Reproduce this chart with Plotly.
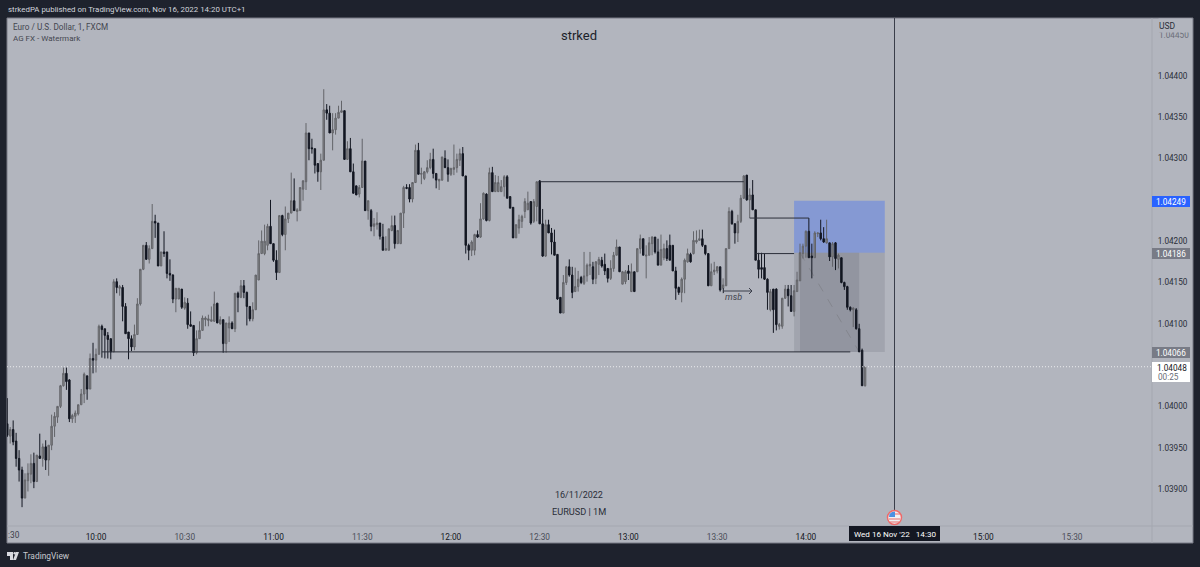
import pandas as pd
import plotly.graph_objects as go

FONT = "Roboto"
DARK = "#1e222d"
PANEL = "#b2b5be"
LINE = "#2a2e39"
NO_LINE = dict(width=0)

start_time = "2022-11-16 09:30"

# 1 minute candles
opens = [
    1.03979, 1.03964, 1.03972, 1.03958, 1.03937, 1.03923, 1.03889, 1.03910, 1.03918, 1.03931,
    1.03909, 1.03940, 1.03937, 1.03951, 1.03935, 1.03953, 1.03976, 1.03987, 1.04000, 1.04025,
    1.04040, 1.04032, 1.03985, 1.03988, 1.03991, 1.04002, 1.04015, 1.04037, 1.04021, 1.04058,
    1.04056, 1.04063, 1.04097, 1.04094, 1.04086, 1.04082, 1.04066, 1.04151, 1.04143, 1.04144,
    1.04121, 1.04090, 1.04082, 1.04072, 1.04087, 1.04124, 1.04166, 1.04195, 1.04178, 1.04191,
    1.04224, 1.04222, 1.04170, 1.04187, 1.04187, 1.04161, 1.04159, 1.04130, 1.04130, 1.04142,
    1.04119, 1.04125, 1.04099, 1.04098, 1.04065, 1.04082, 1.04092, 1.04105, 1.04104, 1.04103,
    1.04103, 1.04125, 1.04100, 1.04105, 1.04076, 1.04095, 1.04101, 1.04094, 1.04137, 1.04132,
    1.04146, 1.04138, 1.04121, 1.04106, 1.04117, 1.04153, 1.04185, 1.04185, 1.04195, 1.04218,
    1.04197, 1.04177, 1.04162, 1.04231, 1.04208, 1.04227, 1.04234, 1.04249, 1.04236, 1.04237,
    1.04263, 1.04272, 1.04331, 1.04313, 1.04312, 1.04294, 1.04284, 1.04298, 1.04359, 1.04355,
    1.04331, 1.04335, 1.04349, 1.04356, 1.04358, 1.04299, 1.04312, 1.04284, 1.04267, 1.04257,
    1.04265, 1.04297, 1.04237, 1.04237, 1.04218, 1.04220, 1.04222, 1.04205, 1.04189, 1.04189,
    1.04213, 1.04219, 1.04197, 1.04197, 1.04234, 1.04265, 1.04265, 1.04251, 1.04271, 1.04310,
    1.04281, 1.04276, 1.04284, 1.04289, 1.04299, 1.04282, 1.04273, 1.04274, 1.04300, 1.04289,
    1.04281, 1.04287, 1.04289, 1.04298, 1.04306, 1.04279, 1.04195, 1.04189, 1.04189, 1.04208,
    1.04205, 1.04227, 1.04257, 1.04225, 1.04283, 1.04260, 1.04260, 1.04260, 1.04266, 1.04278,
    1.04254, 1.04241, 1.04204, 1.04216, 1.04224, 1.04236, 1.04238, 1.04248, 1.04224, 1.04242,
    1.04273, 1.04221, 1.04182, 1.04220, 1.04210, 1.04199, 1.04184, 1.04132, 1.04113, 1.04150,
    1.04169, 1.04159, 1.04139, 1.04145, 1.04156, 1.04149, 1.04158, 1.04170, 1.04169, 1.04155,
    1.04172, 1.04177, 1.04172, 1.04167, 1.04155, 1.04167, 1.04183, 1.04193, 1.04148, 1.04151,
    1.04164, 1.04139, 1.04163, 1.04163, 1.04191, 1.04203, 1.04182, 1.04183, 1.04197, 1.04205,
    1.04187, 1.04171, 1.04180, 1.04191, 1.04195, 1.04195, 1.04164, 1.04144, 1.04138, 1.04154,
    1.04175, 1.04184, 1.04185, 1.04199, 1.04201, 1.04203, 1.04195, 1.04185, 1.04146, 1.04163,
    1.04164, 1.04169, 1.04143, 1.04146, 1.04191, 1.04236, 1.04221, 1.04210, 1.04224, 1.04252,
    1.04280, 1.04250, 1.04256, 1.04238, 1.04177, 1.04168, 1.04168, 1.04154, 1.04117, 1.04142,
    1.04142, 1.04097, 1.04097, 1.04131, 1.04142, 1.04134, 1.04115, 1.04139, 1.04152, 1.04185,
    1.04194, 1.04212, 1.04182, 1.04180, 1.04209, 1.04210, 1.04203, 1.04198, 1.04198, 1.04181,
    1.04198, 1.04178, 1.04180, 1.04150, 1.04145, 1.04120, 1.04117, 1.04117, 1.04094, 1.04068, 1.04025,
]
closes = [
    1.03965, 1.03972, 1.03957, 1.03937, 1.03923, 1.03889, 1.03911, 1.03919, 1.03931, 1.03909,
    1.03941, 1.03937, 1.03951, 1.03935, 1.03953, 1.03976, 1.03988, 1.04000, 1.04025, 1.04040,
    1.04030, 1.03985, 1.03989, 1.03992, 1.04002, 1.04015, 1.04039, 1.04021, 1.04058, 1.04056,
    1.04063, 1.04097, 1.04093, 1.04086, 1.04081, 1.04066, 1.04151, 1.04144, 1.04145, 1.04121,
    1.04088, 1.04082, 1.04072, 1.04087, 1.04124, 1.04166, 1.04195, 1.04178, 1.04191, 1.04224,
    1.04222, 1.04170, 1.04187, 1.04185, 1.04161, 1.04159, 1.04130, 1.04143, 1.04143, 1.04120,
    1.04126, 1.04099, 1.04097, 1.04065, 1.04082, 1.04092, 1.04107, 1.04107, 1.04106, 1.04105,
    1.04124, 1.04101, 1.04105, 1.04076, 1.04101, 1.04101, 1.04094, 1.04137, 1.04132, 1.04146,
    1.04138, 1.04121, 1.04106, 1.04117, 1.04159, 1.04185, 1.04200, 1.04200, 1.04218, 1.04197,
    1.04177, 1.04162, 1.04231, 1.04208, 1.04227, 1.04234, 1.04249, 1.04237, 1.04238, 1.04265,
    1.04273, 1.04331, 1.04312, 1.04312, 1.04292, 1.04284, 1.04298, 1.04359, 1.04355, 1.04331,
    1.04335, 1.04349, 1.04356, 1.04358, 1.04299, 1.04312, 1.04284, 1.04258, 1.04256, 1.04265,
    1.04297, 1.04237, 1.04249, 1.04218, 1.04221, 1.04222, 1.04206, 1.04189, 1.04191, 1.04215,
    1.04219, 1.04197, 1.04213, 1.04234, 1.04265, 1.04264, 1.04251, 1.04271, 1.04310, 1.04281,
    1.04282, 1.04284, 1.04289, 1.04299, 1.04282, 1.04274, 1.04275, 1.04302, 1.04289, 1.04281,
    1.04288, 1.04289, 1.04299, 1.04306, 1.04279, 1.04195, 1.04189, 1.04199, 1.04208, 1.04205,
    1.04227, 1.04258, 1.04225, 1.04283, 1.04260, 1.04271, 1.04271, 1.04266, 1.04278, 1.04252,
    1.04240, 1.04204, 1.04220, 1.04226, 1.04230, 1.04248, 1.04246, 1.04222, 1.04248, 1.04272,
    1.04221, 1.04182, 1.04220, 1.04210, 1.04199, 1.04183, 1.04130, 1.04113, 1.04150, 1.04169,
    1.04159, 1.04138, 1.04145, 1.04154, 1.04150, 1.04158, 1.04171, 1.04172, 1.04154, 1.04175,
    1.04178, 1.04170, 1.04164, 1.04155, 1.04167, 1.04183, 1.04193, 1.04163, 1.04163, 1.04163,
    1.04161, 1.04163, 1.04139, 1.04191, 1.04203, 1.04183, 1.04183, 1.04198, 1.04205, 1.04187,
    1.04171, 1.04190, 1.04191, 1.04179, 1.04177, 1.04164, 1.04143, 1.04138, 1.04154, 1.04177,
    1.04185, 1.04175, 1.04201, 1.04201, 1.04203, 1.04195, 1.04185, 1.04146, 1.04163, 1.04165,
    1.04169, 1.04141, 1.04147, 1.04191, 1.04236, 1.04221, 1.04210, 1.04224, 1.04252, 1.04279,
    1.04250, 1.04256, 1.04238, 1.04177, 1.04166, 1.04166, 1.04154, 1.04138, 1.04139, 1.04117,
    1.04099, 1.04099, 1.04131, 1.04142, 1.04134, 1.04115, 1.04140, 1.04153, 1.04186, 1.04194,
    1.04212, 1.04180, 1.04180, 1.04210, 1.04210, 1.04203, 1.04199, 1.04203, 1.04181, 1.04197,
    1.04179, 1.04183, 1.04150, 1.04145, 1.04120, 1.04117, 1.04119, 1.04094, 1.04066, 1.04025, 1.04048,
]
highs = [
    1.04010, 1.03975, 1.03983, 1.03968, 1.03947, 1.03927, 1.03919, 1.03931, 1.03942, 1.03944,
    1.03941, 1.03967, 1.03955, 1.03959, 1.03953, 1.03990, 1.03993, 1.04000, 1.04026, 1.04047,
    1.04047, 1.04033, 1.03991, 1.03995, 1.04002, 1.04021, 1.04041, 1.04037, 1.04064, 1.04077,
    1.04070, 1.04099, 1.04099, 1.04094, 1.04090, 1.04082, 1.04154, 1.04155, 1.04147, 1.04147,
    1.04125, 1.04090, 1.04086, 1.04099, 1.04131, 1.04166, 1.04195, 1.04199, 1.04195, 1.04245,
    1.04232, 1.04222, 1.04187, 1.04212, 1.04187, 1.04178, 1.04160, 1.04143, 1.04143, 1.04142,
    1.04132, 1.04131, 1.04115, 1.04098, 1.04092, 1.04103, 1.04110, 1.04109, 1.04111, 1.04121,
    1.04139, 1.04125, 1.04109, 1.04105, 1.04101, 1.04109, 1.04103, 1.04137, 1.04139, 1.04153,
    1.04153, 1.04139, 1.04121, 1.04126, 1.04159, 1.04201, 1.04213, 1.04220, 1.04221, 1.04250,
    1.04197, 1.04189, 1.04231, 1.04232, 1.04242, 1.04234, 1.04283, 1.04276, 1.04240, 1.04265,
    1.04274, 1.04343, 1.04331, 1.04324, 1.04312, 1.04294, 1.04306, 1.04384, 1.04366, 1.04364,
    1.04355, 1.04355, 1.04364, 1.04370, 1.04358, 1.04321, 1.04325, 1.04294, 1.04267, 1.04268,
    1.04324, 1.04297, 1.04249, 1.04239, 1.04228, 1.04235, 1.04222, 1.04221, 1.04206, 1.04215,
    1.04231, 1.04231, 1.04213, 1.04234, 1.04267, 1.04269, 1.04269, 1.04271, 1.04317, 1.04319,
    1.04289, 1.04285, 1.04298, 1.04307, 1.04312, 1.04282, 1.04275, 1.04302, 1.04310, 1.04299,
    1.04289, 1.04317, 1.04306, 1.04312, 1.04314, 1.04279, 1.04197, 1.04201, 1.04209, 1.04213,
    1.04246, 1.04259, 1.04258, 1.04289, 1.04290, 1.04280, 1.04279, 1.04274, 1.04280, 1.04280,
    1.04254, 1.04241, 1.04220, 1.04232, 1.04232, 1.04252, 1.04260, 1.04248, 1.04251, 1.04272,
    1.04274, 1.04239, 1.04226, 1.04226, 1.04216, 1.04214, 1.04184, 1.04132, 1.04159, 1.04170,
    1.04178, 1.04169, 1.04168, 1.04164, 1.04158, 1.04187, 1.04173, 1.04187, 1.04175, 1.04176,
    1.04181, 1.04181, 1.04185, 1.04167, 1.04177, 1.04187, 1.04202, 1.04193, 1.04164, 1.04165,
    1.04171, 1.04173, 1.04163, 1.04191, 1.04208, 1.04203, 1.04195, 1.04205, 1.04206, 1.04205,
    1.04203, 1.04208, 1.04197, 1.04201, 1.04208, 1.04195, 1.04169, 1.04145, 1.04156, 1.04179,
    1.04191, 1.04186, 1.04212, 1.04213, 1.04214, 1.04214, 1.04195, 1.04185, 1.04173, 1.04175,
    1.04170, 1.04169, 1.04155, 1.04191, 1.04241, 1.04238, 1.04222, 1.04232, 1.04256, 1.04280,
    1.04280, 1.04264, 1.04274, 1.04238, 1.04186, 1.04186, 1.04185, 1.04155, 1.04142, 1.04142,
    1.04143, 1.04101, 1.04131, 1.04147, 1.04147, 1.04147, 1.04147, 1.04163, 1.04197, 1.04197,
    1.04213, 1.04228, 1.04197, 1.04212, 1.04210, 1.04226, 1.04217, 1.04226, 1.04198, 1.04199,
    1.04199, 1.04185, 1.04180, 1.04151, 1.04146, 1.04121, 1.04120, 1.04119, 1.04100, 1.04070, 1.04048,
]
lows = [
    1.03963, 1.03955, 1.03953, 1.03927, 1.03909, 1.03878, 1.03889, 1.03897, 1.03907, 1.03901,
    1.03909, 1.03937, 1.03927, 1.03923, 1.03916, 1.03947, 1.03963, 1.03980, 1.03998, 1.04024,
    1.04020, 1.03981, 1.03980, 1.03980, 1.03989, 1.04002, 1.04004, 1.04008, 1.04021, 1.04040,
    1.04041, 1.04063, 1.04059, 1.04058, 1.04058, 1.04057, 1.04066, 1.04137, 1.04134, 1.04103,
    1.04088, 1.04057, 1.04067, 1.04068, 1.04087, 1.04122, 1.04165, 1.04178, 1.04173, 1.04191,
    1.04204, 1.04170, 1.04170, 1.04181, 1.04155, 1.04152, 1.04125, 1.04114, 1.04130, 1.04118,
    1.04117, 1.04094, 1.04097, 1.04061, 1.04063, 1.04082, 1.04092, 1.04097, 1.04097, 1.04103,
    1.04103, 1.04101, 1.04099, 1.04065, 1.04065, 1.04078, 1.04094, 1.04090, 1.04114, 1.04131,
    1.04131, 1.04098, 1.04103, 1.04103, 1.04117, 1.04153, 1.04185, 1.04183, 1.04189, 1.04197,
    1.04175, 1.04153, 1.04162, 1.04206, 1.04189, 1.04222, 1.04234, 1.04237, 1.04224, 1.04237,
    1.04249, 1.04262, 1.04298, 1.04306, 1.04282, 1.04272, 1.04262, 1.04298, 1.04347, 1.04331,
    1.04310, 1.04329, 1.04349, 1.04356, 1.04299, 1.04299, 1.04284, 1.04258, 1.04256, 1.04253,
    1.04265, 1.04237, 1.04226, 1.04212, 1.04206, 1.04214, 1.04202, 1.04189, 1.04189, 1.04189,
    1.04212, 1.04191, 1.04197, 1.04197, 1.04216, 1.04263, 1.04247, 1.04247, 1.04271, 1.04281,
    1.04269, 1.04274, 1.04282, 1.04287, 1.04276, 1.04264, 1.04262, 1.04273, 1.04289, 1.04272,
    1.04279, 1.04280, 1.04283, 1.04291, 1.04279, 1.04185, 1.04177, 1.04182, 1.04183, 1.04204,
    1.04204, 1.04226, 1.04224, 1.04224, 1.04260, 1.04260, 1.04260, 1.04260, 1.04254, 1.04252,
    1.04240, 1.04204, 1.04204, 1.04209, 1.04216, 1.04228, 1.04238, 1.04220, 1.04222, 1.04224,
    1.04221, 1.04181, 1.04181, 1.04210, 1.04184, 1.04183, 1.04129, 1.04113, 1.04113, 1.04147,
    1.04157, 1.04131, 1.04139, 1.04139, 1.04148, 1.04147, 1.04151, 1.04159, 1.04148, 1.04148,
    1.04159, 1.04168, 1.04159, 1.04150, 1.04153, 1.04163, 1.04183, 1.04163, 1.04148, 1.04148,
    1.04153, 1.04139, 1.04139, 1.04163, 1.04185, 1.04183, 1.04155, 1.04183, 1.04183, 1.04185,
    1.04171, 1.04171, 1.04177, 1.04176, 1.04177, 1.04164, 1.04129, 1.04135, 1.04126, 1.04137,
    1.04174, 1.04174, 1.04184, 1.04197, 1.04201, 1.04193, 1.04183, 1.04146, 1.04146, 1.04159,
    1.04161, 1.04139, 1.04137, 1.04146, 1.04191, 1.04220, 1.04197, 1.04199, 1.04222, 1.04251,
    1.04249, 1.04228, 1.04238, 1.04177, 1.04155, 1.04155, 1.04153, 1.04117, 1.04115, 1.04089,
    1.04092, 1.04093, 1.04094, 1.04130, 1.04121, 1.04115, 1.04109, 1.04139, 1.04152, 1.04179,
    1.04180, 1.04180, 1.04155, 1.04180, 1.04205, 1.04201, 1.04198, 1.04197, 1.04176, 1.04169,
    1.04165, 1.04167, 1.04149, 1.04141, 1.04117, 1.04115, 1.04096, 1.04093, 1.04066, 1.04025, 1.04024,
]

price_ticks = [1.03900, 1.03950, 1.04000, 1.04100, 1.04150, 1.04200, 1.04300, 1.04350, 1.04400]
time_ticks = ["10:00", "10:30", "11:00", "11:30", "12:00", "12:30", "13:00", "13:30", "14:00", "15:00", "15:30"]

# drawings on the chart: (start, end, price)
level_lines = [
    ("10:02", "14:15", 1.04066),
    ("12:30", "13:39", 1.04272),
    ("13:41", "14:01", 1.04228),
    ("13:43", "13:56", 1.04185),
]
stop_price = 1.04249
entry_price = 1.04186
target_price = 1.04066
last_price = 1.04048


def at(clock):
    return f"2022-11-16 {clock}"


def px(x):
    return (x - 7) / 1145


def py(y):
    return 1 - (y - 18) / 508


def paper_rect(x0, y0, x1, y1, kind="rect", **kwargs):
    return dict(type=kind, xref="paper", yref="paper", x0=px(x0), y0=py(y0), x1=px(x1), y1=py(y1), **kwargs)


def paper_line(x0, y0, x1, y1, color, width=1):
    return dict(
        type="line", xref="paper", yref="paper",
        x0=px(x0), y0=py(y0), x1=px(x1), y1=py(y1),
        line=dict(color=color, width=width),
    )


def paper_path(points, close=False, **kwargs):
    path = "M " + " L ".join(f"{px(x)},{py(y)}" for x, y in points)
    if close:
        path += " Z"
    return dict(type="path", xref="paper", yref="paper", path=path, **kwargs)


def data_rect(t0, t1, p0, p1, fill, layer="below"):
    return dict(
        type="rect", xref="x", yref="y", x0=at(t0), x1=at(t1), y0=p0, y1=p1,
        fillcolor=fill, line=NO_LINE, layer=layer,
    )


def label(x, y, text, size=8.3, color="#131722", anchor="left", **kwargs):
    return dict(
        xref="paper", yref="paper", x=px(x), y=py(y), text=text, showarrow=False,
        xanchor=anchor, yanchor="middle", borderpad=0,
        font=dict(family=FONT, size=size, color=color), **kwargs,
    )


times = pd.date_range(start_time, periods=len(opens), freq="1min")

fig = go.Figure(
    go.Candlestick(
        x=times,
        open=opens,
        high=highs,
        low=lows,
        close=closes,
        whiskerwidth=0,
        increasing=dict(line=dict(color="#636469", width=1), fillcolor="#86878a"),
        decreasing=dict(line=dict(color="#131722", width=1), fillcolor="#131722"),
        showlegend=False,
    )
)

shapes = [
    paper_rect(7, 18, 1193, 543, fillcolor=PANEL, line=dict(color="#787b86", width=1), layer="below"),
    data_rect("13:56", "14:26:40", entry_price, stop_price, "rgba(41,98,255,0.33)"),
    data_rect("13:56", "14:26:40", target_price, entry_price, "rgba(120,123,134,0.28)"),
    data_rect("13:58", "14:18", target_price, entry_price, "rgba(70,72,84,0.16)"),
    dict(
        type="line", xref="x", yref="y", x0=at("13:58"), x1=at("14:18"), y0=entry_price, y1=target_price,
        line=dict(color="#84868e", width=1, dash="dash"), layer="below",
    ),
    dict(
        type="line", xref="paper", yref="y", x0=0, x1=1, y0=last_price, y1=last_price,
        line=dict(color="rgba(255,255,255,0.75)", width=1, dash="1px,2px"),
    ),
    paper_line(7, 526, 1193, 526, "#a4a7b0"),
    paper_line(1152, 18, 1152, 543, "#a4a7b0"),
    paper_line(894.5, 18, 894.5, 511, "#3a3e4a"),
]
for t0, t1, price in level_lines:
    shapes.append(
        dict(
            type="line", xref="x", yref="y", x0=at(t0), x1=at(t1), y0=price, y1=price,
            line=dict(color=LINE, width=1),
        )
    )

# msb arrow
shapes.append(paper_line(723.5, 288, 723.5, 293, "#3a3e4a"))
shapes.append(paper_line(723.5, 291, 752, 291, "#3a3e4a"))
shapes.append(paper_path([(749, 288), (752, 291), (749, 294)], line=dict(color="#3a3e4a", width=1)))

# price and time boxes
shapes.append(paper_rect(1152, 196, 1190, 207, fillcolor="#2962ff", line=NO_LINE))
shapes.append(paper_rect(1152, 248, 1190, 259, fillcolor="#787b86", line=NO_LINE))
shapes.append(paper_rect(1152, 347, 1190, 358, fillcolor="#787b86", line=NO_LINE))
shapes.append(paper_rect(1152, 362, 1190, 382, fillcolor="#ffffff", line=NO_LINE))
shapes.append(paper_rect(849, 526, 940, 541, fillcolor="#131722", line=NO_LINE))

# flag marker
shapes.append(paper_rect(887.5, 510.5, 901.5, 524.5, kind="circle", fillcolor="#f0f0f2",
                         line=dict(color="#ee6a6a", width=1.5)))
shapes.append(paper_path([(889, 517), (889.5, 514), (892, 512), (895, 511.5), (895, 517)], close=True,
                         fillcolor="#4a90e2", line=NO_LINE))
shapes.append(paper_line(895, 514, 900, 514, "#e86a6a"))
shapes.append(paper_line(889, 519, 900, 519, "#e86a6a"))
shapes.append(paper_line(890, 522, 899, 522, "#e86a6a"))

# TradingView logo
shapes.append(paper_rect(7, 552, 13, 556, fillcolor="#d8dae0", line=NO_LINE))
shapes.append(paper_rect(10, 552, 13, 560, fillcolor="#d8dae0", line=NO_LINE))
shapes.append(paper_rect(13.5, 552, 16, 554.5, kind="circle", fillcolor="#d8dae0", line=NO_LINE))
shapes.append(paper_path([(16, 552), (19, 552), (16, 560), (13, 560)], close=True, fillcolor="#d8dae0", line=NO_LINE))

annotations = [
    label(7, 9, "strkedPA published on TradingView.com, Nov 16, 2022 14:20 UTC+1", 7.9, "#d1d4dc"),
    label(12, 27, "Euro / U.S. Dollar, 1, FXCM", 8.2, "#444650"),
    label(12, 38, "AG FX - Watermark", 8, "#444650"),
    label(579, 35, "strked", 13, "#1c1f2a", "center"),
    label(579, 495, "16/11/2022", 9, "#2a2e39", "center"),
    label(579, 511, "EURUSD | 1M", 9.2, "#2a2e39", "center"),
    label(733, 297, "<i>msb</i>", 9, "#444650", "center"),
    label(7, 535, ":30", 8.3, "#3a3e4a"),
    label(1158, 35, "1.04450", 8.2, "#6a6d78"),
    label(1158, 26, "USD", 8.5, "#2a2e39", bgcolor=PANEL, width=32, height=13, align="left"),
    label(1171, 201.5, "1.04249", 8.2, "#ffffff", "center"),
    label(1171, 253.5, "1.04186", 8.2, "#ffffff", "center"),
    label(1171, 352.5, "1.04066", 8.2, "#ffffff", "center"),
    label(1172, 367.5, "1.04048", 8.2, "#131722", "center"),
    label(1168, 376.5, "00:25", 8.2, "#6a6d78", "center"),
    label(894.5, 534, "Wed 16 Nov '22   14:30", 8.1, "#ffffff", "center"),
    label(22, 556, "TradingView", 8.4, "#c8cad0"),
]


def time_text(clock):
    color = "#131722" if clock.endswith("00") else "#4a4d58"
    return f'<span style="color:{color}">{clock}</span>'


fig.update_layout(
    width=1200,
    height=567,
    margin=dict(l=7, r=48, t=18, b=41, autoexpand=False),
    paper_bgcolor=DARK,
    plot_bgcolor="rgba(0,0,0,0)",
    font=dict(family=FONT, size=10, color="#131722"),
    shapes=shapes,
    annotations=annotations,
    hovermode=False,
    xaxis=dict(
        range=[at("09:29:55"), at("15:57:00")],
        rangeslider_visible=False,
        showgrid=False,
        zeroline=False,
        showline=False,
        tickmode="array",
        tickvals=[at(t) for t in time_ticks],
        ticktext=[time_text(t) for t in time_ticks],
        ticks="outside",
        ticklen=3,
        tickcolor="rgba(0,0,0,0)",
        tickfont=dict(family=FONT, size=8.3),
    ),
    yaxis=dict(
        side="right",
        range=[1.038552, 1.044702],
        showgrid=False,
        zeroline=False,
        showline=False,
        tickmode="array",
        tickvals=price_ticks,
        ticktext=[f"{p:.5f}" for p in price_ticks],
        ticks="outside",
        ticklen=3,
        tickcolor="rgba(0,0,0,0)",
        tickfont=dict(family=FONT, size=8.2, color="#2a2e39"),
    ),
)

# the page margin would push the figure off the 1200x567 window
fig.write_html(
    "out.html",
    config=dict(displayModeBar=False),
    post_script="document.body.style.margin='0';document.body.style.overflow='hidden';",
)
